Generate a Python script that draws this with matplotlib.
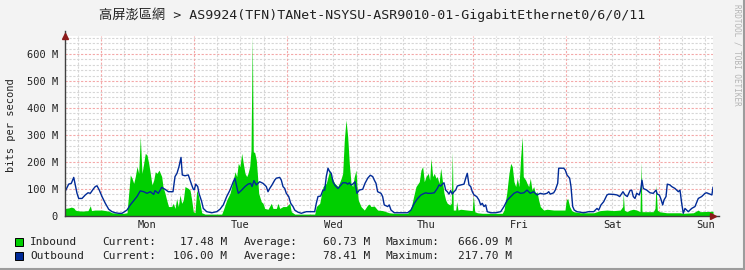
"""Weekly traffic graph (rrdtool style) for one router interface."""

import matplotlib
matplotlib.use("Agg")
import matplotlib.pyplot as plt
from matplotlib.lines import Line2D
from matplotlib.patches import Rectangle

# hours since the left edge of the graph, values in Mbit/s
in_hours = [
    0, 0.95, 1.63, 2.25, 2.66, 3.1, 4.39, 5.94, 6.53, 6.84, 7.74, 9.55, 11.28, 12.13,
    13.86, 15.15, 16.0, 16.85, 17.29, 17.73, 18.14, 18.58, 19.02, 19.43, 19.87, 20.31,
    20.72, 21.16, 21.6, 22.01, 22.45, 22.89, 23.3, 23.74, 24.26, 24.95, 25.29, 25.81,
    26.24, 26.71, 27.53, 27.95, 28.39, 28.82, 29.24, 29.68, 30.11, 30.53, 30.97, 31.82,
    32.26, 32.7, 33.11, 33.55, 33.99, 34.4, 34.84, 35.28, 36.13, 40.44, 40.85, 41.73,
    42.58, 43.43, 43.87, 44.31, 44.72, 45.16, 45.6, 46.01, 46.45, 46.89, 47.23, 47.66,
    48.0, 48.34, 48.59, 48.95, 49.37, 49.63, 49.99, 50.66, 51.1, 51.54, 52.39, 53.24,
    53.68, 54.53, 54.97, 55.41, 56.26, 57.11, 57.55, 57.99, 58.4, 59.28, 64.44, 64.85,
    65.73, 66.58, 67.43, 68.31, 68.72, 69.6, 70.45, 71.3, 71.66, 72.08, 72.52, 72.95,
    73.37, 73.81, 74.24, 74.66, 75.1, 75.35, 75.69, 76.39, 77.24, 78.12, 78.53, 78.97,
    79.8, 80.68, 81.97, 82.82, 83.67, 84.89, 88.42, 89.28, 89.97, 90.58, 91.43, 91.87,
    92.3, 92.72, 93.16, 93.75, 94.11, 94.45, 94.89, 95.3, 95.74, 96.08, 96.52, 96.96,
    97.37, 97.81, 98.24, 98.66, 99.35, 99.69, 99.95, 100.21, 100.83, 101.08, 101.42,
    102.12, 103.82, 105.11, 105.37, 105.73, 106.4, 107.69, 112.85, 113.29, 113.99,
    114.58, 115.02, 115.43, 115.87, 116.31, 116.72, 117.16, 117.6, 118.01, 118.27,
    118.89, 119.23, 119.66, 120.08, 120.52, 120.95, 121.37, 121.81, 122.24, 122.66,
    123.53, 124.39, 126.12, 129.03, 129.37, 129.73, 130.24, 130.76, 131.28, 132.98,
    136.44, 137.29, 138.14, 139.87, 141.6, 143.3, 143.92, 144.08, 144.34, 144.96,
    145.81, 146.66, 147.54, 148.39, 148.65, 148.9, 150.12, 151.82, 152.26, 152.52,
    152.85, 153.37, 155.28, 158.71, 159.56, 162.14, 163.43, 163.87, 167.23,
]
in_mbps = [
    28, 30, 33, 30, 22, 20, 18, 20, 38, 20, 22, 22, 18, 12,
    10, 10, 12, 152, 140, 121, 146, 183, 158, 294, 158, 195,
    232, 226, 195, 158, 115, 133, 164, 158, 170, 146, 109, 84,
    59, 35, 35, 47, 28, 65, 35, 78, 47, 59, 109, 102,
    96, 59, 16, 12, 96, 78, 47, 12, 7, 7, 22, 59,
    84, 133, 164, 146, 195, 183, 232, 195, 158, 146, 158, 183,
    244, 666, 238, 235, 207, 158, 84, 53, 47, 28, 25, 47,
    28, 28, 47, 28, 35, 35, 41, 47, 16, 7, 7, 35,
    47, 109, 121, 170, 146, 121, 109, 140, 158, 281, 356, 294,
    195, 121, 109, 146, 170, 109, 59, 35, 22, 41, 44, 35,
    37, 22, 20, 16, 12, 10, 10, 28, 72, 109, 127, 170,
    183, 127, 146, 158, 133, 214, 146, 158, 140, 146, 121, 177,
    133, 84, 59, 47, 41, 47, 238, 22, 22, 53, 22,
    25, 22, 20, 78, 16, 12, 10, 10, 22, 84,
    158, 195, 183, 127, 109, 140, 109, 220, 294, 146,
    133, 121, 109, 140, 96, 109, 84, 90, 59, 35,
    22, 25, 22, 22, 59, 65, 35, 20, 16, 12,
    12, 16, 20, 22, 20, 22, 35, 84, 22, 16,
    22, 25, 22, 16, 200, 16, 16, 16, 28, 115,
    22, 16, 12, 12, 10, 12, 22, 16, 17.48,
]

out_hours = [
    0, 0.95, 1.63, 2.25, 2.66, 3.1, 3.54, 4.39, 5.24, 5.94, 6.53, 7.41, 7.82, 8.26,
    8.85, 9.55, 10.4, 11.28, 12.13, 12.98, 13.86, 14.71, 15.15, 16.0, 16.85, 17.73,
    18.58, 19.43, 20.31, 21.16, 22.01, 22.89, 23.23, 24.08, 24.95, 25.81, 26.66, 27.87,
    28.39, 28.9, 29.42, 29.94, 30.27, 30.97, 31.82, 32.26, 32.7, 33.11, 33.37, 33.73,
    34.25, 34.58, 35.28, 35.69, 36.57, 37.86, 39.15, 40.0, 40.85, 41.73, 42.58, 43.43,
    43.87, 44.31, 44.72, 45.6, 46.45, 47.23, 47.92, 48.26, 48.77, 49.37, 50.24, 51.1,
    51.95, 52.39, 52.83, 53.42, 54.12, 54.53, 55.41, 55.82, 56.26, 56.7, 57.11, 57.73,
    58.25, 58.84, 59.28, 60.13, 60.98, 62.27, 64.44, 64.85, 65.29, 65.99, 66.58, 67.02,
    67.43, 67.87, 68.31, 68.72, 69.16, 69.6, 70.45, 71.23, 71.66, 72.52, 72.95, 73.37,
    73.81, 74.24, 74.84, 75.35, 75.95, 76.83, 77.42, 78.12, 78.79, 79.41, 79.82, 80.26,
    80.68, 81.55, 81.97, 82.39, 83.27, 83.67, 84.13, 84.98, 88.42, 89.28, 90.14, 91.01,
    91.87, 92.72, 93.16, 93.6, 94.45, 95.3, 96.08, 96.52, 96.96, 97.37, 97.81, 98.24,
    98.66, 99.1, 99.53, 99.95, 100.39, 100.83, 101.24, 102.12, 102.97, 103.41, 103.82,
    104.26, 104.7, 105.11, 105.55, 106.25, 106.84, 107.28, 107.69, 108.13, 108.57,
    108.98, 109.86, 111.15, 112.44, 113.29, 114.14, 115.02, 115.87, 116.72, 117.6,
    118.45, 119.23, 120.08, 120.95, 121.81, 122.66, 123.53, 124.39, 124.83, 125.24,
    126.12, 126.53, 127.15, 127.41, 128.7, 129.11, 129.55, 130.24, 130.58, 131.02,
    131.43, 132.13, 133.86, 135.15, 136.44, 136.85, 137.29, 137.73, 138.32, 139.02,
    139.87, 140.31, 141.6, 142.45, 143.15, 143.74, 144.0, 144.52, 145.11, 145.81,
    146.25, 146.66, 147.1, 147.54, 148.21, 148.57, 148.9, 149.24, 150.12, 150.97,
    151.82, 152.52, 152.85, 153.37, 153.73, 154.25, 154.58, 155.1, 155.43, 156.13,
    156.57, 157.42, 158.28, 158.71, 159.15, 159.56, 160.0, 160.44, 160.85, 161.73,
    162.58, 163.43, 164.3, 165.16, 165.6, 166.42, 166.94, 167.23,
]
out_mbps = [
    90, 118, 121, 143, 115, 84, 65, 65, 78, 86, 84, 102, 109, 112,
    96, 72, 47, 25, 16, 12, 10, 10, 14, 22, 41, 57,
    72, 93, 90, 84, 90, 80, 94, 84, 106, 99, 90, 90,
    146, 158, 183, 217, 152, 149, 152, 133, 115, 99, 97, 118,
    109, 84, 53, 28, 16, 12, 16, 25, 41, 72, 96, 127,
    140, 109, 84, 96, 109, 118, 121, 109, 131, 115, 127, 121,
    109, 90, 102, 115, 133, 140, 143, 133, 109, 102, 84, 72,
    47, 35, 22, 14, 10, 16, 16, 47, 72, 74, 96, 96,
    146, 177, 164, 158, 127, 115, 102, 115, 123, 123, 118, 123,
    115, 118, 127, 84, 96, 99, 121, 140, 151, 146, 133, 121,
    90, 84, 72, 41, 35, 41, 22, 12, 12, 22, 47, 65,
    78, 84, 86, 84, 84, 86, 102, 115, 111, 118, 123, 96,
    90, 81, 94, 81, 90, 96, 111, 115, 118, 140, 158,
    115, 109, 90, 78, 72, 59, 41, 47, 35, 41,
    16, 12, 12, 16, 35, 59, 72, 84, 90, 84,
    86, 96, 84, 90, 78, 84, 81, 84, 90, 81,
    86, 96, 121, 177, 177, 170, 152, 140, 109, 35,
    22, 16, 12, 16, 16, 22, 28, 22, 41, 53,
    78, 81, 80, 78, 72, 84, 90, 78, 72, 94,
    96, 72, 65, 84, 78, 96, 133, 102, 96, 86,
    84, 96, 81, 78, 65, 41, 59, 72, 118, 115,
    109, 102, 90, 96, 47, 10, 28, 22, 16, 28,
    35, 65, 72, 84, 86, 81, 78, 106,
]

days = ["Mon", "Tue", "Wed", "Thu", "Fri", "Sat", "Sun"]
first_midnight = 33.29  # hour of the first day boundary (red line)
span_hours = 167.23
y_top = 666.7

legend_rows = [
    ("Inbound", "17.48 M", "60.73 M", "666.09 M"),
    ("Outbound", "106.00 M", "78.41 M", "217.70 M"),
]

GREEN = "#00CF00"
BLUE = "#002A97"
MONO = "DejaVu Sans Mono"
W, H = 745, 270


def fx(x):
    return x / W


def fy(y):
    return 1 - y / H


fig = plt.figure(figsize=(W / 100, H / 100), dpi=100)
fig.patch.set_facecolor("#F3F3F3")

ax = fig.add_axes([fx(65), fy(216), 648 / W, 180 / H])
ax.set_facecolor("white")
ax.set_xlim(0, span_hours)
ax.set_ylim(0, y_top)

# grid: minor every 20 M / 6 h in gray, major every 100 M / 24 h in red
for v in range(20, int(y_top) + 1, 20):
    c = "#F4A8A8" if v % 100 == 0 else "#D6D6D6"
    ax.axhline(v, color=c, lw=0.8, ls=(0, (2, 1.5)), zorder=0.5)
h = first_midnight - 30
while h < span_hours:
    is_major = abs((h - first_midnight) % 24) < 1e-6
    c = "#F4A8A8" if is_major else "#D6D6D6"
    ax.axvline(h, color=c, lw=0.8, ls=(0, (2, 1.5)), zorder=0.5)
    h += 6

ax.fill_between(in_hours, in_mbps, color=GREEN, lw=0, zorder=2)
ax.plot(out_hours, out_mbps, color=BLUE, lw=1.0, zorder=3)

for s in ["top", "right"]:
    ax.spines[s].set_visible(False)
for s in ["left", "bottom"]:
    ax.spines[s].set_color("#404040")
    ax.spines[s].set_linewidth(1.0)
    ax.spines[s].set_zorder(4)

ax.set_yticks(range(0, 700, 100))
ax.set_yticklabels(["0"] + [f"{v} M" for v in range(100, 700, 100)])
ax.set_xticks([first_midnight - 12 + 24 * i for i in range(len(days))])
ax.set_xticklabels(days)
ax.tick_params(length=0, labelsize=7.5, colors="#222222")
ax.tick_params(axis="y", pad=5)
ax.tick_params(axis="x", pad=3)
for lab in ax.get_xticklabels() + ax.get_yticklabels():
    lab.set_family(MONO)

# axis arrows
ax.plot([0], [1.0], marker="^", ms=5, color="#8B1A1A", transform=ax.transAxes,
        clip_on=False, zorder=5)
ax.plot([1.0], [0], marker=">", ms=5, color="#8B1A1A", transform=ax.transAxes,
        clip_on=False, zorder=5)
ax.plot([0, 0], [1.0, 1.03], color="#404040", lw=1.0, transform=ax.transAxes, clip_on=False)
ax.plot([1.0, 1.01], [0, 0], color="#404040", lw=1.0, transform=ax.transAxes, clip_on=False)

fig.text(fx(372), fy(15),
         "高屏澎區網 > AS9924(TFN)TANet-NSYSU-ASR9010-01-GigabitEthernet0/6/0/11",
         ha="center", va="center", fontsize=9.5, color="#222222",
         family=[MONO, "Noto Sans CJK TC"])
fig.text(fx(11), fy(125), "bits per second", rotation=90, ha="center", va="center",
         fontsize=7.5, family=MONO, color="#222222")
fig.text(fx(737), fy(4), "RRDTOOL / TOBI OETIKER", rotation=270, ha="center", va="top",
         fontsize=5.5, family=MONO, color="#B4B4B4")

# legend
for i, (name, cur, avg, mx) in enumerate(legend_rows):
    y = 242 + 14 * i
    fig.patches.append(Rectangle((fx(15), fy(y + 4)), 8 / W, 8 / H, transform=fig.transFigure,
                                 facecolor=[GREEN, BLUE][i], edgecolor="black", lw=0.7))
    kw = dict(va="center", fontsize=8, family=MONO, color="#222222")
    fig.text(fx(30), fy(y), name, ha="left", **kw)
    fig.text(fx(102), fy(y), "Current:", ha="left", **kw)
    fig.text(fx(227), fy(y), cur, ha="right", **kw)
    fig.text(fx(244), fy(y), "Average:", ha="left", **kw)
    fig.text(fx(370), fy(y), avg, ha="right", **kw)
    fig.text(fx(386), fy(y), "Maximum:", ha="left", **kw)
    fig.text(fx(512), fy(y), mx, ha="right", **kw)

# 3d-ish frame
fig.add_artist(Line2D([0, 1], [0.004, 0.004], color="#9C9C9C", lw=1.5))
fig.add_artist(Line2D([0.998, 0.998], [0, 1], color="#9C9C9C", lw=1.5))

fig.savefig("out.png", dpi=100, facecolor=fig.get_facecolor())
